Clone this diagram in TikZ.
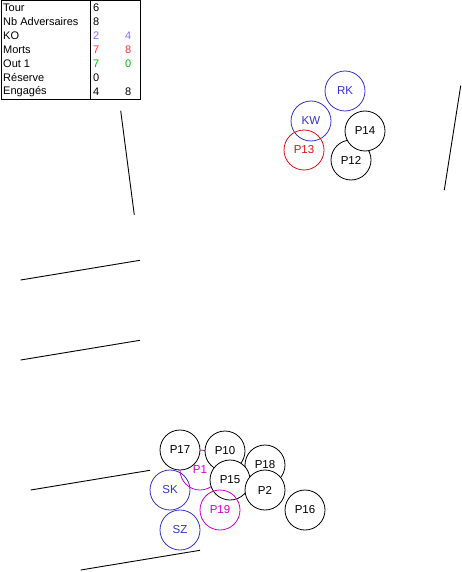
\documentclass[tikz,border=0pt]{standalone}
\usepackage{fontspec}
\setmainfont{Liberation Sans}
\definecolor{cblue}{HTML}{3333CC}
\definecolor{cred}{HTML}{DD1111}
\definecolor{cmag}{HTML}{CC00CC}
\definecolor{cviolet}{HTML}{9966FF}
\definecolor{cmorts}{HTML}{FF3333}
\definecolor{cgreen}{HTML}{00BB00}
\begin{document}
\begin{tikzpicture}[x=1pt,y=-1pt,
  pawn/.style={circle,draw=black,fill=white,minimum size=40pt,inner sep=0pt,font=\fontsize{11.5}{13}\selectfont,line width=0.8pt},
  bluep/.style={pawn,draw=cblue,text=cblue},
  redp/.style={pawn,draw=cred,text=cred},
  magp/.style={pawn,draw=cmag,text=cmag},
  wall/.style={draw=black,line width=0.9pt},
  cell/.style={anchor=west,inner sep=0pt,font=\fontsize{11}{13}\selectfont}]
\useasboundingbox (0,0) rectangle (462,572);
% table
\node[draw=black,line width=0.8pt,minimum width=139pt,minimum height=99pt,anchor=north west,inner sep=0pt] (tab) at (0.5,0.5) {};
\coordinate (vt) at (90.5,0.5);
\coordinate (vb) at (90.5,99.5);
\draw[line width=0.8pt] (vt) -- (vb);
\node[cell] (l1) at (3,8) {Tour};
\node[cell] (l2) at (3,22) {Nb Adversaires};
\node[cell] (l3) at (3,36) {KO};
\node[cell] (l4) at (3,50) {Morts};
\node[cell] (l5) at (3,64) {Out 1};
\node[cell] (l6) at (3,78) {Réserve};
\node[cell] (l7) at (3,92) {Engagés};
\node[cell] (a1) at (93,8) {6};
\node[cell] (a2) at (93,22) {8};
\node[cell,text=cviolet] (a3) at (93,36) {2};
\node[cell,text=cmorts] (a4) at (93,50) {7};
\node[cell,text=cgreen] (a5) at (93,64) {7};
\node[cell] (a6) at (93,78) {0};
\node[cell] (a7) at (93,92) {4};
\node[cell,text=cviolet] (b3) at (125,36) {4};
\node[cell,text=cmorts] (b4) at (125,50) {8};
\node[cell,text=cgreen] (b5) at (125,64) {0};
\node[cell] (b7) at (125,92) {8};
% walls
\coordinate (w1a) at (120.7,110.7); \coordinate (w1b) at (134.3,215);
\coordinate (w2a) at (460.7,85.7); \coordinate (w2b) at (444.3,190);
\coordinate (w3a) at (20.7,280); \coordinate (w3b) at (140,260.3);
\coordinate (w4a) at (20.7,360); \coordinate (w4b) at (140,340.3);
\coordinate (w5a) at (30.7,490); \coordinate (w5b) at (150,470.3);
\coordinate (w6a) at (80.7,570); \coordinate (w6b) at (200,550.3);
\draw[wall] (w1a) -- (w1b);
\draw[wall] (w2a) -- (w2b);
\draw[wall] (w3a) -- (w3b);
\draw[wall] (w4a) -- (w4b);
\draw[wall] (w5a) -- (w5b);
\draw[wall] (w6a) -- (w6b);
% top-right group
\node[bluep] (RK) at (345,91) {RK};
\node[pawn] (P12) at (351,160) {P12};
\node[pawn] (P14) at (365,131) {P14};
\node[bluep] (KW) at (311,121) {KW};
\node[redp,fill=none] (P13) at (304,150) {P13};
% bottom group
\node[bluep] (SK) at (170,490) {SK};
\node[bluep] (SZ) at (180,530) {SZ};
\node[magp,fill=none] (P1) at (200,470) {P1};
\node[pawn] (P17) at (180,450) {P17};
\node[pawn] (P10) at (225,451) {P10};
\node[pawn] (P18) at (265,465) {P18};
\node[pawn] (P15) at (230,480) {P15};
\node[magp,fill=none] (P19) at (220,510) {P19};
\node[pawn] (P2) at (265,490) {P2};
\node[pawn] (P16) at (305,510) {P16};
\end{tikzpicture}
\end{document}
